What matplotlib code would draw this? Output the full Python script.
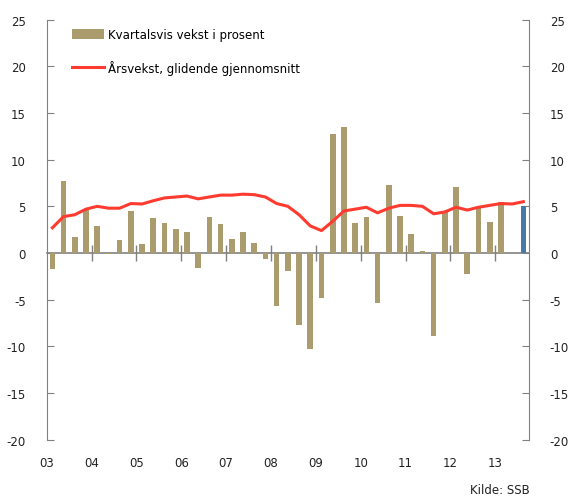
import numpy as np
import matplotlib
matplotlib.use("Agg")
import matplotlib.pyplot as plt

# quarterly data 2003Q1 - 2013Q3
years = ["03", "04", "05", "06", "07", "08", "09", "10", "11", "12", "13"]
quarterly = [-1.7, 7.75, 1.7, 4.6, 2.9, -0.15, 1.4, 4.5, 1.0, 3.8, 3.2, 2.6,
             2.2, -1.6, 3.9, 3.1, 1.5, 2.2, 1.1, -0.65, -5.7, -1.9, -7.75, -10.3,
             -4.8, 12.7, 13.5, 3.2, 3.85, -5.4, 7.3, 4.0, 2.0, 0.2, -8.9, 4.4,
             7.1, -2.2, 4.9, 3.3, 5.5, 0.0, 5.0]
annual = [2.7, 3.9, 4.1, 4.7, 5.0, 4.8, 4.8, 5.3, 5.25, 5.6, 5.9, 6.0,
          6.1, 5.8, 6.0, 6.2, 6.2, 6.3, 6.25, 6.0, 5.3, 5.0, 4.1, 2.9,
          2.4, 3.4, 4.5, 4.7, 4.9, 4.3, 4.8, 5.1, 5.1, 5.0, 4.2, 4.4,
          4.9, 4.6, 4.9, 5.1, 5.3, 5.25, 5.5]
yticks = [25, 20, 15, 10, 5, 0, -5, -10, -15, -20]

label_bar = "Kvartalsvis vekst i prosent"
label_line = "Årsvekst, glidende gjennomsnitt"
source = "Kilde: SSB"

tan = "#ab9c6e"
blue = "#4a78a8"
red = "#ff3b30"
grey = "#808080"

plt.rcParams["font.family"] = ["DejaVu Sans"]
plt.rcParams["font.size"] = 9

x = np.arange(len(quarterly))
colors = [tan] * (len(quarterly) - 1) + [blue]

fig = plt.figure(figsize=(5.7, 5.02), dpi=100)
ax = fig.add_axes([0.082, 0.122, 0.846, 0.837])

bars = ax.bar(x, quarterly, width=0.5, color=colors, label=label_bar, zorder=2)
line, = ax.plot(x, annual, color=red, lw=2.2, label=label_line, zorder=3)

ax.set_xlim(-0.5, len(quarterly) - 0.5)
ax.set_ylim(-20, 25)
ax.set_yticks(yticks)
ax.set_yticklabels([str(v) for v in yticks])
ax.tick_params(axis="y", direction="in", length=5, color=grey, pad=15,
               right=True, labelright=True, labelsize=8.5, labelcolor="#222222")

for s in ["top", "bottom"]:
    ax.spines[s].set_visible(False)
for s in ["left", "right"]:
    ax.spines[s].set_color(grey)

# year labels at the bottom, year ticks crossing the zero line
bounds = np.arange(0, len(quarterly), 4) - 0.5
ax.set_xticks(bounds)
ax.set_xticklabels(years)
ax.tick_params(axis="x", length=0, pad=12, labelsize=8.5, labelcolor="#222222")

zero_frac = (0 - (-20)) / 45
sec = ax.secondary_xaxis(zero_frac)
sec.set_xticks(bounds[1:])
sec.set_xticklabels([])
sec.tick_params(direction="inout", length=12, color=grey, width=1)
sec.spines["bottom"].set_color(grey)
sec.spines["bottom"].set_linewidth(1.2)

ax.legend([bars, line], [label_bar, label_line], loc="upper left",
          bbox_to_anchor=(0.03, 1.005), frameon=False,
          handlelength=2.7, handleheight=1.0, labelspacing=1.6,
          handletextpad=0.4, fontsize=8.5)

fig.text(0.93, 0.01, source, ha="right", va="bottom", fontsize=8.5, color="#222222")

fig.savefig("out.png", dpi=100)
